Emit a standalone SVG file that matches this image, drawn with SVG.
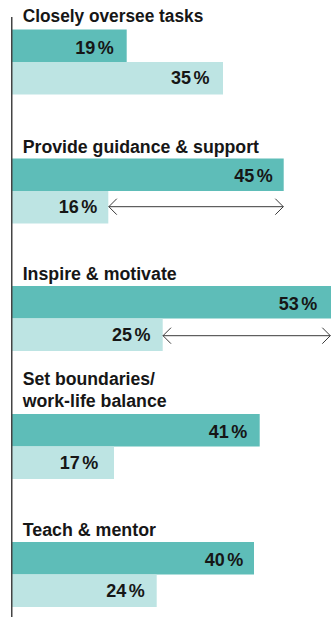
<svg xmlns="http://www.w3.org/2000/svg" width="331" height="617" viewBox="0 0 331 617">
  <style>
    .title { font-family: "Liberation Sans", Arial, sans-serif; font-weight: bold; font-size: 17.5px; fill: #161616; }
    .val { font-family: "Liberation Sans", Arial, sans-serif; font-weight: bold; font-size: 18px; fill: #161616; text-anchor: end; word-spacing: -2.5px; }
    .dark { fill: #5ebdb8; }
    .light { fill: #bde4e3; }
    .arrow { stroke: #3a3a3a; stroke-width: 1; fill: none; marker-start: url(#chev); marker-end: url(#chev); }
    .axis { stroke: #444; stroke-width: 1.5; }
  </style>
  <defs>
    <marker id="chev" viewBox="0 0 10 18" refX="9" refY="9" markerWidth="10" markerHeight="18" markerUnits="userSpaceOnUse" orient="auto-start-reverse">
      <path d="M1,1 L9,9 L1,17" fill="none" stroke="#3a3a3a" stroke-width="1"/>
    </marker>
  </defs>

  <g id="node-closely-oversee-tasks">
    <text class="title" x="22.7" y="22" textLength="180.6" lengthAdjust="spacingAndGlyphs">Closely oversee tasks</text>
    <rect class="dark" x="12" y="29.5" width="114.7" height="32.5"/>
    <rect class="light" x="12" y="62" width="211" height="32.5"/>
    <text class="val" x="113.8" y="54">19 %</text>
    <text class="val" x="209.5" y="84">35 %</text>
  </g>

  <g id="node-provide-guidance">
    <text class="title" x="22.7" y="152.5" textLength="236.3" lengthAdjust="spacingAndGlyphs">Provide guidance &amp; support</text>
    <rect class="dark" x="12" y="158.5" width="271.7" height="32.5"/>
    <rect class="light" x="12" y="191" width="96.3" height="32.5"/>
    <text class="val" x="272.8" y="181.7">45 %</text>
    <text class="val" x="97.2" y="213.3">16 %</text>
  </g>

  <g id="node-inspire-motivate">
    <text class="title" x="22.7" y="280" textLength="154" lengthAdjust="spacingAndGlyphs">Inspire &amp; motivate</text>
    <rect class="dark" x="12" y="286" width="319" height="32.5"/>
    <rect class="light" x="12" y="318.5" width="150.7" height="32.5"/>
    <text class="val" x="317.2" y="310">53 %</text>
    <text class="val" x="150.5" y="341">25 %</text>
  </g>

  <g id="node-set-boundaries">
    <text class="title" x="22.7" y="385" textLength="132.3" lengthAdjust="spacingAndGlyphs">Set boundaries/</text>
    <text class="title" x="22.7" y="406.7" textLength="144" lengthAdjust="spacingAndGlyphs">work-life balance</text>
    <rect class="dark" x="12" y="414" width="247.7" height="32.5"/>
    <rect class="light" x="12" y="446.5" width="102" height="32.5"/>
    <text class="val" x="247.2" y="437.7">41 %</text>
    <text class="val" x="98.2" y="469.3">17 %</text>
  </g>

  <g id="node-teach-mentor">
    <text class="title" x="22.7" y="536" textLength="133.3" lengthAdjust="spacingAndGlyphs">Teach &amp; mentor</text>
    <rect class="dark" x="12" y="542" width="242" height="32.5"/>
    <rect class="light" x="12" y="574.5" width="144.7" height="32.5"/>
    <text class="val" x="243.2" y="565.7">40 %</text>
    <text class="val" x="144.8" y="596.7">24 %</text>
  </g>

  <g id="connectors">
    <line class="axis" x1="11.75" y1="17" x2="11.75" y2="617"/>
    <line class="arrow" x1="108.8" y1="206.7" x2="283.3" y2="206.7"/>
    <line class="arrow" x1="163" y1="335.7" x2="330.3" y2="335.7"/>
  </g>
</svg>
